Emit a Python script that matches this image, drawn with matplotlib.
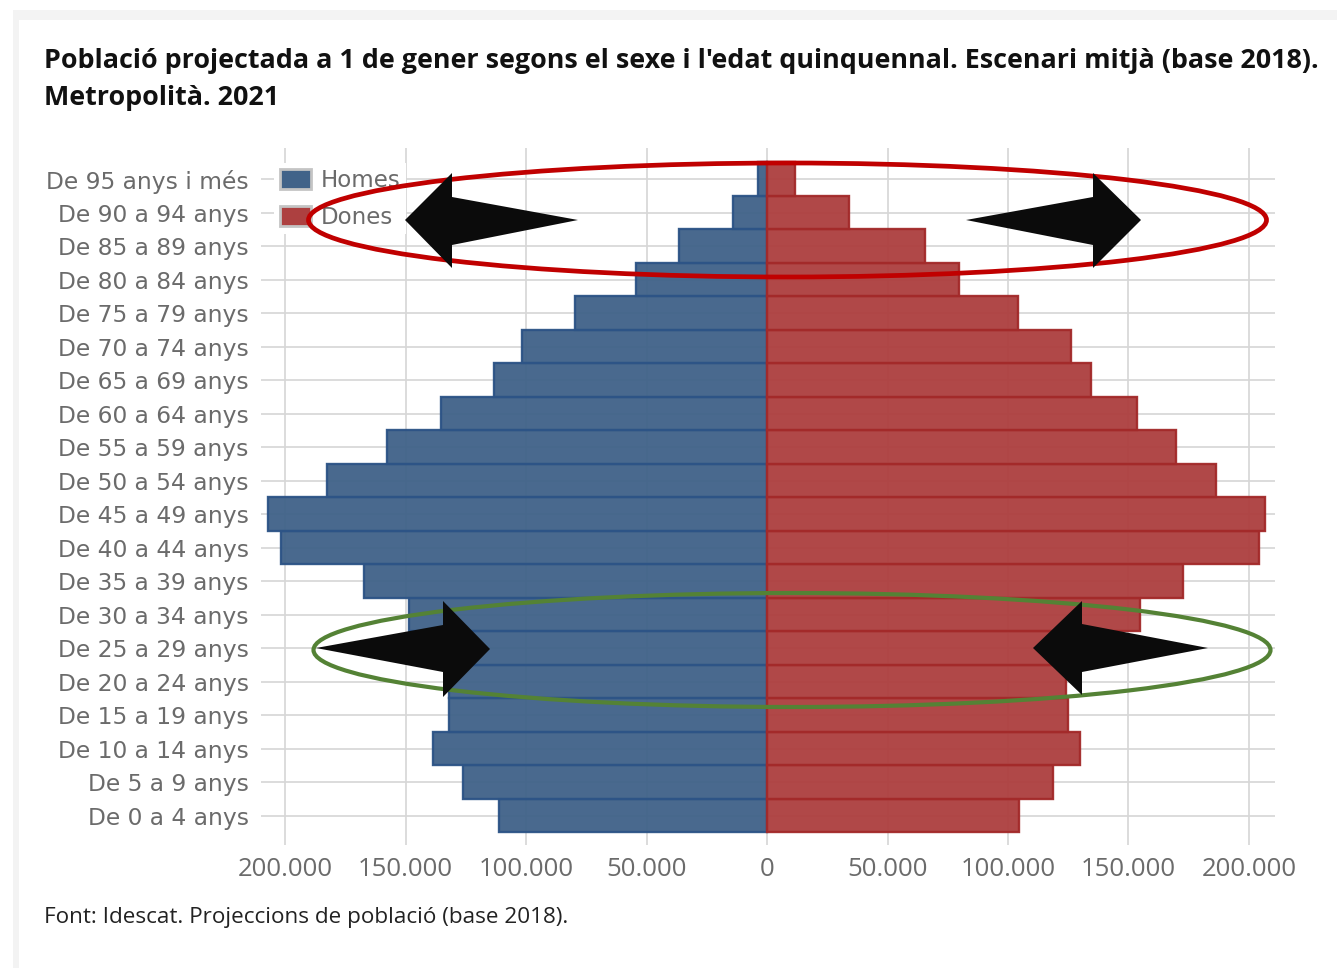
import matplotlib.pyplot as plt
import matplotlib.transforms as mtransforms
from matplotlib.patches import Patch, Ellipse, Polygon, Rectangle
from matplotlib.ticker import FuncFormatter

# Age groups, bottom to top
grups = ["De 0 a 4 anys", "De 5 a 9 anys", "De 10 a 14 anys", "De 15 a 19 anys",
         "De 20 a 24 anys", "De 25 a 29 anys", "De 30 a 34 anys", "De 35 a 39 anys",
         "De 40 a 44 anys", "De 45 a 49 anys", "De 50 a 54 anys", "De 55 a 59 anys",
         "De 60 a 64 anys", "De 65 a 69 anys", "De 70 a 74 anys", "De 75 a 79 anys",
         "De 80 a 84 anys", "De 85 a 89 anys", "De 90 a 94 anys", "De 95 anys i més"]

homes = [111200, 126100, 138600, 132000, 132000, 140000, 148500, 167200, 201700, 207100,
         182600, 157700, 135300, 113300, 101700, 79700, 54400, 36500, 14100, 3700]
dones = [104600, 118700, 129900, 124900, 124000, 138000, 154800, 172600, 204100, 206600,
         186300, 169700, 153500, 134400, 126100, 104100, 79700, 65600, 34000, 11800]

xticks = [-200000, -150000, -100000, -50000, 0, 50000, 100000, 150000, 200000]

W, H = 1337, 968
blue, blue_edge = '#416389', '#2d5486'
red, red_edge = '#ad4040', '#a32a2a'
grey_txt = '#6b6b6b'

fig = plt.figure(figsize=(W / 100, H / 100), dpi=100)
fig.patch.set_facecolor('white')

# pixel coordinates (origin top-left) on the figure
px = mtransforms.Affine2D().scale(1 / W, -1 / H).translate(0, 1) + fig.transFigure

# page background + white card
fig.add_artist(Rectangle((13, 10), W, H, transform=px, facecolor='#f3f3f3', edgecolor='none', zorder=-10))
fig.add_artist(Rectangle((19, 20), W, H, transform=px, facecolor='white', edgecolor='none', zorder=-9))

ax = fig.add_axes([261 / W, 1 - 845 / H, (1275 - 261) / W, (845 - 148) / H])
ax.set_facecolor('none')

y = list(range(len(grups)))
ax.barh(y, [-v for v in homes], height=1.0, color=blue, alpha=0.96,
        edgecolor=blue_edge, linewidth=1.7, label='Homes', zorder=2)
ax.barh(y, dones, height=1.0, color=red, alpha=0.96,
        edgecolor=red_edge, linewidth=1.7, label='Dones', zorder=2)

ax.set_xlim(-210000, 210800)
ax.set_ylim(-0.88, 19.93)
ax.set_xticks(xticks)
ax.xaxis.set_major_formatter(FuncFormatter(lambda v, p: f"{abs(int(v)):,}".replace(',', '.')))
ax.set_yticks(y)
ax.set_yticklabels(grups)

ax.grid(True, color='#d6d6d6', linewidth=1.2, zorder=0)
ax.set_axisbelow(True)
for s in ax.spines.values():
    s.set_visible(False)
ax.tick_params(axis='y', length=0, pad=9, labelsize=16.8, labelcolor=grey_txt)
ax.tick_params(axis='x', length=0, pad=9, labelcolor=grey_txt)
for t in ax.get_yticklabels():
    t.set_family('DejaVu Sans')
for t in ax.get_xticklabels():
    t.set_family('Open Sans')
    t.set_fontsize(18.5)

handles = [Patch(facecolor=blue, edgecolor='#c4c4c4', linewidth=2, label='Homes'),
           Patch(facecolor=red, edgecolor='#c4c4c4', linewidth=2, label='Dones')]
leg = ax.legend(handles=handles, loc='upper left', bbox_to_anchor=(274 / W, 1 - 163 / H),
                bbox_transform=fig.transFigure, frameon=True, framealpha=1,
                facecolor='white', edgecolor='none', fancybox=False,
                prop={'family': 'DejaVu Sans', 'size': 16.5}, labelcolor=grey_txt,
                handlelength=1.35, handleheight=1.0, handletextpad=0.45,
                labelspacing=0.6, borderpad=0.25, borderaxespad=0)

# title and source
fig.text(44, 61, "Població projectada a 1 de gener segons el sexe i l'edat quinquennal. Escenari mitjà (base 2018).",
         transform=px, fontsize=19.4, fontweight='bold', family='Open Sans', color='#111111', va='center')
fig.text(44, 98, "Metropolità. 2021", transform=px, fontsize=19.4, fontweight='bold',
         family='Open Sans', color='#111111', va='center')
fig.text(44, 918, "Font: Idescat. Projeccions de població (base 2018).", transform=px,
         fontsize=16.2, family='Open Sans', color='#222222', va='center')

# highlight ellipses
fig.add_artist(Ellipse((787.5, 220), 958, 114, transform=px, fill=False,
                       edgecolor='#c00000', linewidth=3.4, zorder=5))
fig.add_artist(Ellipse((792, 650), 957, 114, transform=px, fill=False,
                       edgecolor='#548235', linewidth=3.0, zorder=5))

# block arrows
arrows = [
    [(578, 220), (452, 197), (452, 173), (405, 220), (452, 268), (452, 245)],
    [(966, 220), (1093, 197), (1093, 173), (1141, 220), (1093, 268), (1093, 245)],
    [(316, 648), (443, 625), (443, 601), (490, 649), (443, 697), (443, 672)],
    [(1208, 648), (1082, 624), (1082, 601), (1033, 648), (1082, 695), (1082, 672)],
]
for pts in arrows:
    fig.add_artist(Polygon(pts, closed=True, transform=px, facecolor='#0b0b0b',
                           edgecolor='none', zorder=6))

plt.savefig('out.png', dpi=100)
